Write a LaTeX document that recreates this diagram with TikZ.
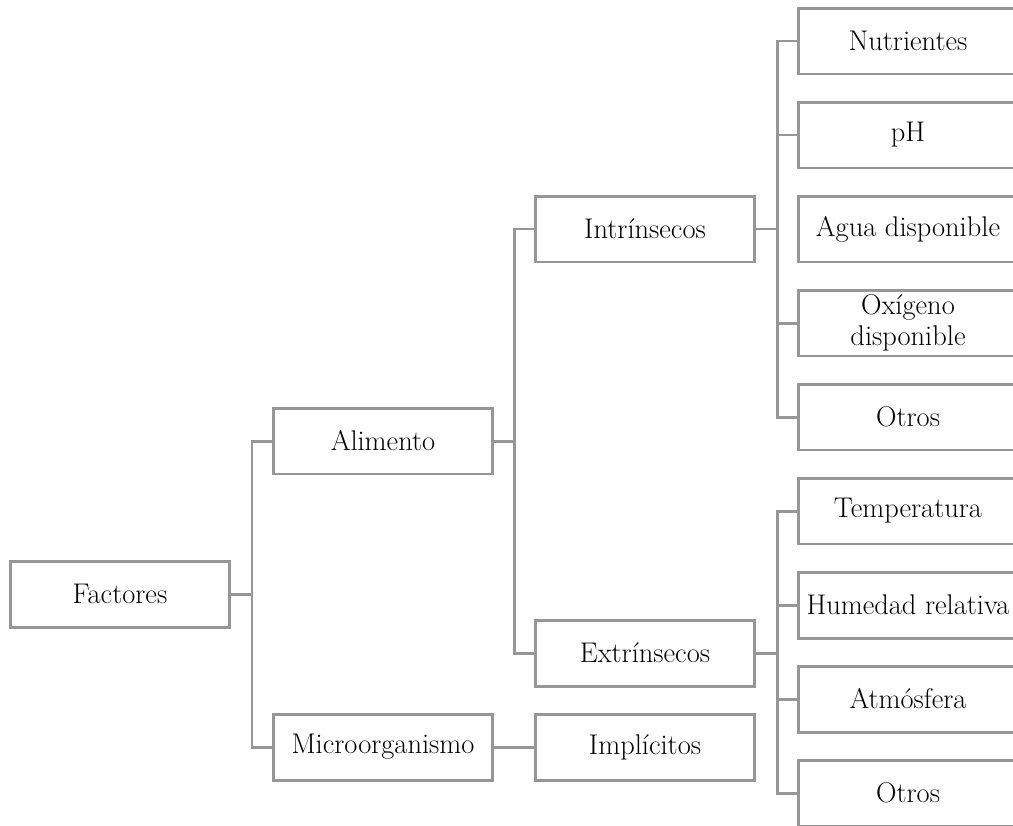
\documentclass[tikz,border=0pt]{standalone}
\usepackage{fontspec}
\usepackage{tikz}
\definecolor{linegray}{RGB}{150,150,150}
\tikzset{
  box/.style={draw=linegray, line width=1.7pt, minimum width=4.4cm, minimum height=1.32cm,
    inner sep=0pt, align=center, font=\fontsize{16.2}{17.5}\selectfont},
  link/.style={draw=linegray, line width=1.7pt}
}

\begin{document}
\begin{tikzpicture}[x=0.02cm, y=-0.02cm]
\useasboundingbox (0,0) rectangle (1013,825);
\clip (0,0) rectangle (1013,825);
\node[box](fac) at (120, 594) {Factores};
\node[box](ali) at (383, 441) {Alimento};
\node[box](mic) at (383, 747) {Microorganismo};
\node[box](int) at (645, 229) {Intrínsecos};
\node[box](ext) at (645, 653) {Extrínsecos};
\node[box](imp) at (645, 747) {Implícitos};
% intrinsecos
\node[box](i1) at (908, 41) {Nutrientes};
\node[box](i2) at (908, 135) {pH};
\node[box](i3) at (908, 229) {Agua disponible};
\node[box](i4) at (908, 323) {Oxígeno\\disponible};
\node[box](i5) at (908, 417) {Otros};
% extrinsecos
\node[box](e1) at (908, 511) {Temperatura};
\node[box](e2) at (908, 605) {Humedad relativa};
\node[box](e3) at (908, 699) {Atmósfera};
\node[box](e4) at (908, 793) {Otros};
\coordinate (j1) at (252, 594);
\coordinate (j2) at (514, 441);
\coordinate (j3) at (777, 229);
\coordinate (j4) at (777, 653);
\draw[link] (fac.east) -- (j1);
\draw[link] (ali.west) -| (j1) |- (mic.west);
\draw[link] (ali.east) -- (j2);
\draw[link] (int.west) -| (j2) |- (ext.west);
\draw[link] (mic) -- (imp);
\draw[link] (int.east) -- (j3);
\draw[link] (i1.west) -| (j3) |- (i5.west);
\draw[link] (i2.west) -| (j3);
\draw[link] (i4.west) -| (j3);
\draw[link] (ext.east) -- (j4);
\draw[link] (e1.west) -| (j4) |- (e4.west);
\draw[link] (e2.west) -| (j4);
\draw[link] (e3.west) -| (j4);
\end{tikzpicture}
\end{document}
